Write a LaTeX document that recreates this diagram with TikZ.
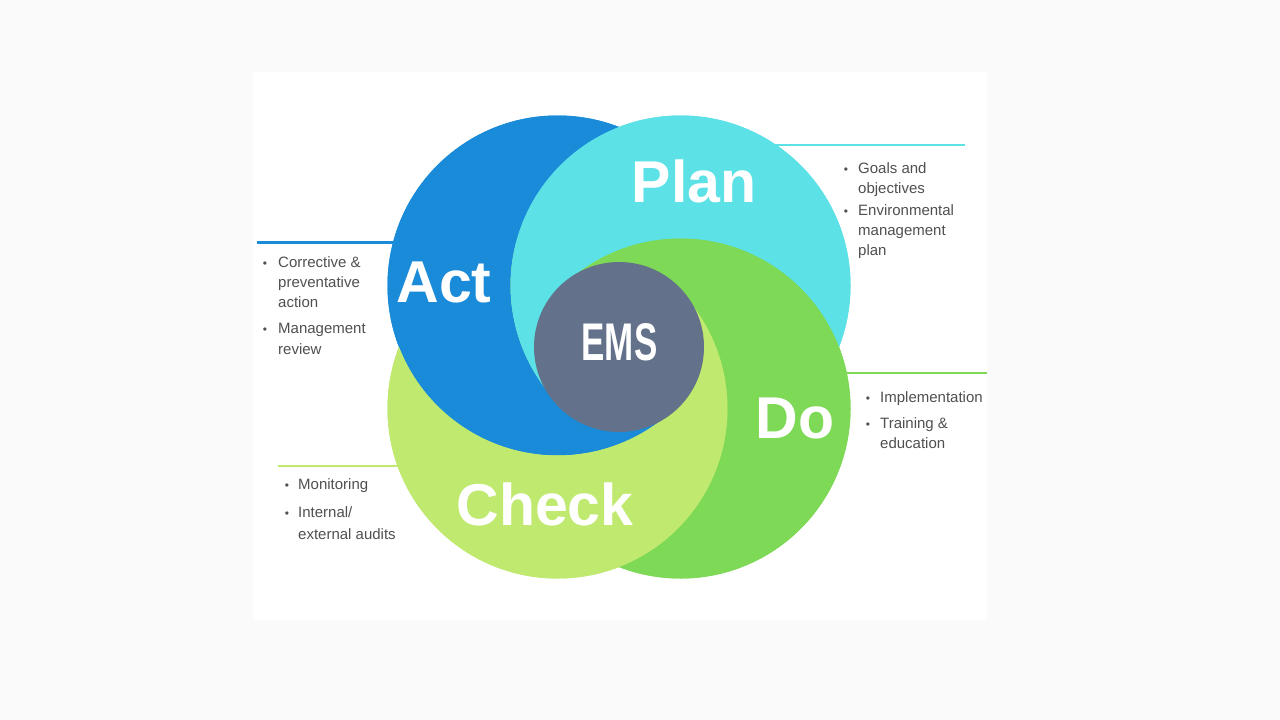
\documentclass[tikz,border=0pt]{standalone}
\usepackage{fontspec}
\usepackage{graphicx}
\setmainfont{Liberation Sans}
\definecolor{actblue}{HTML}{1A8BD9}
\definecolor{plancyan}{HTML}{5CE1E6}
\definecolor{dogreen}{HTML}{7ED957}
\definecolor{checkgreen}{HTML}{BFE96F}
\definecolor{emsslate}{HTML}{63718A}
\definecolor{bggray}{HTML}{FAFAFA}
\definecolor{txtgray}{HTML}{505050}
\begin{document}
\begin{tikzpicture}[x=1pt,y=-1pt,
  biglabel/.style={anchor=base, inner sep=0, text=white, font=\bfseries\fontsize{59}{59}\selectfont},
  emslabel/.style={anchor=base, inner sep=0, text=white, font=\bfseries\fontsize{53}{53}\selectfont},
  itemtext/.style={anchor=base west, inner sep=0, text=txtgray, font=\fontsize{15}{17}\selectfont},
  bul/.style={anchor=base, inner sep=0, text=txtgray, font=\fontsize{12}{13}\selectfont},
  leader/.style={line width=2.5pt}]
\useasboundingbox (0,0) rectangle (1280,720);
\fill[bggray] (0,0) rectangle (1280,720);
\fill[white] (253,72) rectangle (987,620);

% centres
\coordinate (C) at (619,347);
\coordinate (A) at (557.5,285.5);
\coordinate (P) at (680.5,285.5);
\coordinate (D) at (680.5,408.5);
\coordinate (K) at (557.5,408.5);

% leader lines
\coordinate (al1) at (257,242.5);  \coordinate (al2) at (460,242.5);
\coordinate (pl1) at (965,145);    \coordinate (pl2) at (700,145);
\coordinate (dl1) at (987,373);    \coordinate (dl2) at (760,373);
\coordinate (kl1) at (278,466);    \coordinate (kl2) at (460,466);
\draw[leader, actblue] (al1) -- (al2);
\draw[leader, plancyan] (pl1) -- (pl2);
\draw[leader, dogreen] (dl1) -- (dl2);
\draw[leader, checkgreen] (kl1) -- (kl2);

% base layer
\fill[actblue] (A) circle[radius=170pt];
\fill[plancyan] (P) circle[radius=170pt];
\fill[dogreen] (D) circle[radius=170pt];
\fill[checkgreen] (K) circle[radius=170pt];

% swirl layers: each circle painted outside (next circle minus its own wedge)
\begin{scope}[even odd rule]
\clip (0,0) rectangle (1280,720) (C) -- plot[domain=135:435.77, samples=200, variable=\t] ({680.5+170*cos(\t)},{285.5+170*sin(\t)}) -- cycle;
\fill[actblue] (A) circle[radius=170pt];
\end{scope}
\begin{scope}[even odd rule]
\clip (0,0) rectangle (1280,720) (C) -- plot[domain=225:525.77, samples=200, variable=\t] ({680.5+170*cos(\t)},{408.5+170*sin(\t)}) -- cycle;
\fill[plancyan] (P) circle[radius=170pt];
\end{scope}
\begin{scope}[even odd rule]
\clip (0,0) rectangle (1280,720) (C) -- plot[domain=-45:255.77, samples=200, variable=\t] ({557.5+170*cos(\t)},{408.5+170*sin(\t)}) -- cycle;
\fill[dogreen] (D) circle[radius=170pt];
\end{scope}
\begin{scope}[even odd rule]
\clip (0,0) rectangle (1280,720) (C) -- plot[domain=45:345.77, samples=200, variable=\t] ({557.5+170*cos(\t)},{285.5+170*sin(\t)}) -- cycle;
\fill[checkgreen] (K) circle[radius=170pt];
\end{scope}

% centre
\node[circle, fill=emsslate, minimum size=170pt, inner sep=0] (emsc) at (C) {};
\node[emslabel] (ems) at (619.5,360) {\scalebox{0.66}[1]{EMS}};

% big labels
\node[biglabel] (actlbl) at (444,302) {Act};
\node[biglabel] (planlbl) at (694,202) {Plan};
\node[biglabel] (dolbl) at (795,438) {Do};
\node[biglabel] (checklbl) at (545,525) {Check};

% Plan list
\node[bul] (pb1) at (846,173) {•};
\node[bul] (pb2) at (846,215) {•};
\node[itemtext] (pt1) at (858,173) {Goals and};
\node[itemtext] (pt2) at (858,193) {objectives};
\node[itemtext] (pt3) at (858,215) {Environmental};
\node[itemtext] (pt4) at (858,235) {management};
\node[itemtext] (pt5) at (858,255) {plan};

% Act list
\node[bul] (ab1) at (265,267) {•};
\node[bul] (ab2) at (265,333) {•};
\node[itemtext] (at1) at (278,267) {Corrective \&};
\node[itemtext] (at2) at (278,287) {preventative};
\node[itemtext] (at3) at (278,307) {action};
\node[itemtext] (at4) at (278,333) {Management};
\node[itemtext] (at5) at (278,354) {review};

% Do list
\node[bul] (db1) at (868,402) {•};
\node[bul] (db2) at (868,428) {•};
\node[itemtext] (dt1) at (880,402) {Implementation};
\node[itemtext] (dt2) at (880,428) {Training \&};
\node[itemtext] (dt3) at (880,448) {education};

% Check list
\node[bul] (kb1) at (287,489) {•};
\node[bul] (kb2) at (287,517) {•};
\node[itemtext] (kt1) at (298,489) {Monitoring};
\node[itemtext] (kt2) at (298,517) {Internal/};
\node[itemtext] (kt3) at (298,539) {external audits};
\end{tikzpicture}
\end{document}
